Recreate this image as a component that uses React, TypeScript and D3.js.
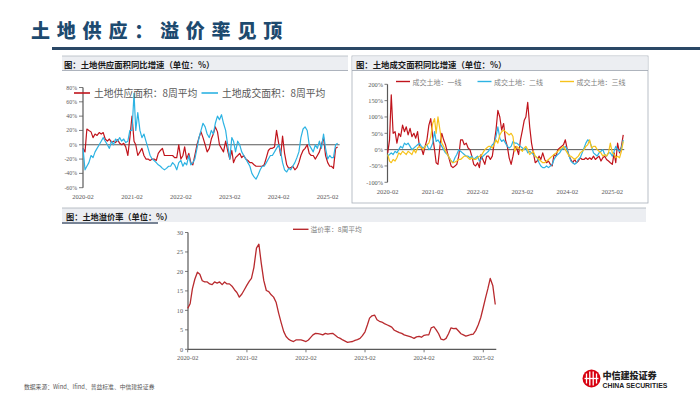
import React from 'react';
import * as d3 from 'd3';

// ---------- data (semi-monthly points starting 2020-02) ----------
const supplyArea = [
  -5, -10, 22, 20, 18, 10, 15, 13, 17, 15,
  17, 8, 5, 8, 3, 5, 3, 7, 2, 0,
  2, -3, -15, 10, 40, 5, 0, -15, -10, -5,
  -15, -20, -20, -22, -20, -20, -22, -12, -8, -5,
  -15, -15, -15, -15, -15, -18, -18, 0, -20, -15,
  -3, -20, -12, -25, -28, -15, 0, 10, 18, 10,
  0, -10, -5, 8, 15, 25, 18, 0, -5, -10,
  5, -8, -20, -8, -25, -18, -15, -12, -18, -15,
  -20, -22, -25, -25, -28, -30, -30, -30, -30, -28,
  -18, -8, -5, -5, -3, 20, 2, -15, 12, -12,
  -28, -33, -32, -30, -35, -32, -25, -15, -8, -5,
  0, -12, -15, -15, -20, -15, -10, 0, 10, -15,
  -25, -30, -30, -33, -5, -3,
];
const dealArea = [
  -5, -35, -30, -25, -15, -18, -10, -5, 0, 5,
  10, 5, 0, -5, 5, 0, 8, 5, 10, 5,
  8, 3, 5, 20, 20, 72, 20, 45, 20, 10,
  15, 5, -5, -15, -20, -22, -25, -28, -30, -33,
  -35, -33, -30, -30, -25, -28, -35, -25, -22, -30,
  -25, -28, -15, -28, -25, -20, -5, 10, 20, 30,
  25, 15, 10, 20, 15, 30, 40, 35, 42, 30,
  20, 0, -20, 10, 5, -10, 5, 0, -10, -15,
  -20, -25, -30, -40, -45, -48, -42, -35, -30, -30,
  -25, -20, -15, -15, -10, -5, 0, -10, -25, -35,
  -38, -33, -35, -30, -25, -18, -10, 10, 22, 25,
  20, 0, -5, -10, 0, -5, 5, -5, 15, -5,
  -20, -15, -18, -18, 0, 2,
];
const tier1 = [
  -10, 30, 168, 50, 55, 20, 50, 40, 75, 55,
  70, 45, 65, 40, 50, 35, 55, 10, 5, -15,
  10, 30, 75, 95, 40, 0, -40, -45, 10, 50,
  30, 15, -10, -30, -50, -55, -50, -45, -20, 30,
  30, 15, 20, 5, 0, -20, -45, -50, -40, -55,
  -15, -30, -45, -20, -20, -30, -20, 20, 60, 120,
  100, 60, 80, 30, 10, -25, -45, -20, 10, 5,
  -15, 30, 60, 90, 100, 145, 70, 20, -10, -40,
  -35, -20, -30, -10, -30, -40, -35, -45, -50, -15,
  -20, 0, 5, 10, 15, 30, 0, -20, -30, -40,
  -30, -40, -35, -25, -30, -30, -25, -30, -25, -30,
  -20, -30, -25, -20, -35, -25, -20, -30, -35, -40,
  -45, -10, -40, 20, -10, 10, 45,
];
const tier2 = [
  -20, -15, -10, -15, -5, -10, 0, 10, 5, 20,
  15, 20, 10, 0, 5, 10, 15, 20, 10, 5,
  10, 15, 0, 5, 20, 55, 25, 30, 20, 10,
  0, -10, -15, -25, -35, -40, -25, -15, 0, -5,
  -10, -15, -20, -20, -25, -20, -30, -25, -20, -35,
  -30, -20, -15, -10, -5, 5, 15, 20, 40, 70,
  35, 25, 30, 20, 10, 5, 10, 25, 20, 20,
  15, 10, 5, 0, 5, -10, -5, -10, -15, -20,
  -25, -40, -50, -55, -55, -50, -55, -50, -45, -30,
  -20, -15, -10, 0, 5, 10, 0, -20, -35, -40,
  -45, -40, -30, -25, -10, 5, 20, 30, 25, 10,
  -10, -15, -20, -10, -5, 0, -15, -20, -10, -10,
  -20, -5, 10, 0, -5, 5, 30,
];
const tier3 = [
  -15, -35, -40, -30, -35, -25, -10, -15, -5, -10,
  -15, -5, -10, -15, 0, -10, 5, 10, 5, 0,
  10, 15, 20, 40, 80, 95, 50, 100, 60, 20,
  10, -5, -15, -25, -35, -40, -38, -35, -30, -30,
  -25, -20, -20, -25, -30, -25, -30, -30, -25, -20,
  -20, -10, 0, 5, 10, 10, 5, 15, 30, 20,
  45, 55, 60, 55, 50, 45, 50, 40, -5, 10,
  5, 0, -5, 5, 10, 0, -15, -10, -5, -20,
  -25, -30, -35, -40, -40, -35, -30, -25, -20, -15,
  -10, -5, 0, 5, 10, 0, -10, -20, -20, -25,
  -30, -25, -20, -10, -5, 0, 10, 15, 30, 5,
  10, 10, 0, -5, -10, -20, -15, -20, -10, 20,
  -10, -15, -25, -20, -25, -5, 25,
];
const premium = [
  10.5, 11.7, 15.5, 18, 19.8, 19.3, 17.6, 17.3, 17.3, 16.8,
  16.6, 17.3, 17, 17.3, 16.6, 17.3, 16.8, 16.8, 16.2, 15.3,
  14.6, 13.4, 14.2, 15.3, 16.5, 17.5, 18.2, 21, 26, 27,
  22, 17.7, 15.1, 14.8, 14, 13.4, 12, 9.3, 6.8, 4.6,
  3.3, 2.6, 2.2, 2, 2.4, 2.4, 2.4, 2.2, 2, 2.4,
  3, 3.7, 4.1, 4, 3.9, 3.7, 4.1, 3.9, 4, 4.1,
  3.6, 3.1, 2.8, 2.4, 2.1, 1.8, 1.9, 2, 2.3, 2.5,
  2.8, 3.5, 4.5, 6.3, 8, 8.6, 8.8, 7.6, 7.2, 7,
  6.6, 6.3, 6, 5.7, 4.9, 4.6, 4.3, 4.1, 3.7, 3.5,
  3.3, 3.1, 2.8, 3.2, 3.3, 3.1, 3.6, 3.7, 3.7, 5.5,
  5.8, 5, 4, 2.6, 2.4, 2.8, 4, 5.5, 5.3, 5.4,
  4.7, 4, 3.7, 3.4, 3.6, 3.8, 3.9, 4.8, 6.3, 8.1,
  10.8, 13.4, 15.5, 18.2, 16.3, 11.5,
];

const xTickLabels = ['2020-02', '2021-02', '2022-02', '2023-02', '2024-02', '2025-02'];
const pctTicks1 = [80, 60, 40, 20, 0, -20, -40, -60];
const pctTicks2 = [200, 150, 100, 50, 0, -50, -100];
const premiumTicks = [0, 5, 10, 15, 20, 25, 30];

// ---------- helpers ----------
const semiMonth = (i: number) => new Date(2020, 1 + Math.floor(i / 2), i % 2 === 0 ? 1 : 16);
const tickDate = (s: string) => {
  const [y, m] = s.split('-').map(Number);
  return new Date(y, m - 1, 1);
};
const D0 = new Date(2020, 1, 1);
const D1 = new Date(2025, 1, 1);

const CJK = '"Noto Sans CJK SC", "Noto Sans", sans-serif';
const SERIF = '"Liberation Serif", "DejaVu Serif", serif';
const TICK = '#595959';
const RED = '#c0141c';
const CYAN = '#2db3e3';
const YELLOW = '#f6c21c';
const PREM = '#b82a2e';

function pathOf(values: number[], x: d3.ScaleTime<number, number>, y: d3.ScaleLinear<number, number>) {
  return d3
    .line<number>()
    .x((_, i) => x(semiMonth(i)))
    .y((v) => y(v))(values) as string;
}

export default function App() {
  // chart 1
  const x1 = d3.scaleTime().domain([D0, D1]).range([83, 327.7]);
  const y1 = d3.scaleLinear().domain([-60, 80]).range([187.7, 87.5]);
  // chart 2
  const x2 = d3.scaleTime().domain([D0, D1]).range([387.7, 612.3]);
  const y2 = d3.scaleLinear().domain([-100, 200]).range([182.3, 84.3]);
  // chart 3
  const x3 = d3.scaleTime().domain([D0, D1]).range([187.7, 483.3]);
  const y3 = d3.scaleLinear().domain([0, 30]).range([349.3, 232.5]);

  const x1End = x1(semiMonth(supplyArea.length - 1)) + 2;
  const x2End = x2(semiMonth(tier1.length - 1)) + 1;
  const x3End = x3(semiMonth(premium.length - 1)) + 1;

  return (
    <svg
      width={700}
      height={394}
      style={{ position: 'absolute', left: 0, top: 0, background: '#fff' }}
      xmlns="http://www.w3.org/2000/svg"
    >
      <rect x={0} y={0} width={700} height={394} fill="#fff" />

      {/* title */}
      <text
        x={31}
        y={38}
        fontFamily={CJK}
        fontWeight={900}
        fontSize={19}
        letterSpacing={6.8}
        fill="#1d4a6f"
      >
        土地供应：溢价率见顶
      </text>
      <rect x={52} y={47} width={648} height={3} fill="#2a4866" />

      {/* ===== panel 1 ===== */}
      <rect x={62} y={56} width={286} height={14.5} fill="#eceef2" />
      <line x1={62} x2={348} y1={56} y2={56} stroke="#b4bac2" strokeWidth={0.8} />
      <line x1={62} x2={348} y1={70.5} y2={70.5} stroke="#9aa2ad" strokeWidth={0.8} />
      <text x={64} y={63.5} dominantBaseline="central" fontFamily={CJK} fontWeight={700} fontSize={8.4} fill="#1a1a1a">
        图：土地供应面积同比增速（单位：%）
      </text>

      {/* axis 1 */}
      <line x1={83} x2={83} y1={y1(80)} y2={y1(-60)} stroke="#595959" strokeWidth={1.2} />
      {pctTicks1.map((t) => (
        <g key={'p1' + t}>
          <line x1={79} x2={83} y1={y1(t)} y2={y1(t)} stroke="#595959" strokeWidth={0.8} />
          <text x={77} y={y1(t)} dominantBaseline="central" textAnchor="end" fontFamily={SERIF} fontSize={5.8} fill={TICK}>
            {t + '%'}
          </text>
        </g>
      ))}
      <line x1={83} x2={x1End} y1={y1(0)} y2={y1(0)} stroke="#595959" strokeWidth={1} />
      {xTickLabels.map((s) => (
        <text key={'a' + s} x={x1(tickDate(s))} y={196} dominantBaseline="central" textAnchor="middle" fontFamily={SERIF} fontSize={6.5} fill={TICK}>
          {s}
        </text>
      ))}
      <path d={pathOf(supplyArea, x1, y1)} fill="none" stroke={RED} strokeWidth={1.2} strokeLinejoin="round" />
      <path d={pathOf(dealArea, x1, y1)} fill="none" stroke={CYAN} strokeWidth={1.2} strokeLinejoin="round" />
      {/* legend 1 */}
      <line x1={74} x2={90} y1={93} y2={93} stroke={RED} strokeWidth={1.6} />
      <text x={94} y={93} dominantBaseline="central" fontFamily={CJK} fontSize={9.8} fill="#595959">
        土地供应面积：8周平均
      </text>
      <line x1={201.5} x2={218} y1={93} y2={93} stroke={CYAN} strokeWidth={1.6} />
      <text x={222} y={93} dominantBaseline="central" fontFamily={CJK} fontSize={9.8} fill="#595959">
        土地成交面积：8周平均
      </text>

      {/* ===== panel 2 ===== */}
      <rect x={352} y={56} width={296} height={147} fill="none" stroke="#a9b0b9" strokeWidth={0.8} />
      <rect x={352.4} y={56.4} width={295.2} height={14} fill="#eceef2" />
      <line x1={352} x2={648} y1={70.5} y2={70.5} stroke="#9aa2ad" strokeWidth={0.8} />
      <text x={356} y={63.5} dominantBaseline="central" fontFamily={CJK} fontWeight={700} fontSize={8.4} fill="#1a1a1a">
        图：土地成交面积同比增速（单位：%）
      </text>

      <line x1={387.5} x2={387.5} y1={y2(200)} y2={y2(-100)} stroke="#595959" strokeWidth={1.2} />
      {pctTicks2.map((t) => (
        <g key={'p2' + t}>
          <line x1={384.5} x2={387.5} y1={y2(t)} y2={y2(t)} stroke="#595959" strokeWidth={0.8} />
          <text x={383} y={y2(t)} dominantBaseline="central" textAnchor="end" fontFamily={SERIF} fontSize={6.3} fill={TICK}>
            {t + '%'}
          </text>
        </g>
      ))}
      <line x1={387.5} x2={x2End} y1={y2(0)} y2={y2(0)} stroke="#595959" strokeWidth={1} />
      {xTickLabels.map((s) => (
        <text key={'b' + s} x={x2(tickDate(s))} y={191} dominantBaseline="central" textAnchor="middle" fontFamily={SERIF} fontSize={6.5} fill={TICK}>
          {s}
        </text>
      ))}
      <path d={pathOf(tier1, x2, y2)} fill="none" stroke={RED} strokeWidth={1.2} strokeLinejoin="round" />
      <path d={pathOf(tier2, x2, y2)} fill="none" stroke={CYAN} strokeWidth={1.2} strokeLinejoin="round" />
      <path d={pathOf(tier3, x2, y2)} fill="none" stroke={YELLOW} strokeWidth={1.2} strokeLinejoin="round" />
      {/* legend 2 */}
      <line x1={396} x2={410} y1={81.5} y2={81.5} stroke={RED} strokeWidth={1.4} />
      <text x={412.5} y={81.5} dominantBaseline="central" fontFamily={CJK} fontSize={7} fill="#7f7f7f">
        成交土地：一线
      </text>
      <line x1={477.5} x2={491.5} y1={81.5} y2={81.5} stroke={CYAN} strokeWidth={1.4} />
      <text x={494} y={81.5} dominantBaseline="central" fontFamily={CJK} fontSize={7} fill="#7f7f7f">
        成交土地：二线
      </text>
      <line x1={560} x2={574} y1={81.5} y2={81.5} stroke={YELLOW} strokeWidth={1.4} />
      <text x={576.5} y={81.5} dominantBaseline="central" fontFamily={CJK} fontSize={7} fill="#7f7f7f">
        成交土地：三线
      </text>

      {/* ===== panel 3 ===== */}
      <rect x={62} y={208} width={584} height={14} fill="#eceef2" />
      <line x1={62} x2={646} y1={208} y2={208} stroke="#a9b0b9" strokeWidth={0.8} />
      <line x1={62} x2={158} y1={223} y2={223} stroke="#4a5a72" strokeWidth={1.5} />
      <text x={66} y={215.5} dominantBaseline="central" fontFamily={CJK} fontWeight={700} fontSize={8.2} fill="#1a1a1a">
        图：土地溢价率（单位：%）
      </text>

      <line x1={188} x2={188} y1={y3(30)} y2={y3(0)} stroke="#595959" strokeWidth={1.2} />
      {premiumTicks.map((t) => (
        <g key={'p3' + t}>
          <line x1={185} x2={188} y1={y3(t)} y2={y3(t)} stroke="#595959" strokeWidth={0.8} />
          <text x={183} y={y3(t)} dominantBaseline="central" textAnchor="end" fontFamily={SERIF} fontSize={6.2} fill={TICK}>
            {t}
          </text>
        </g>
      ))}
      <line x1={188} x2={x3End} y1={y3(0)} y2={y3(0)} stroke="#595959" strokeWidth={1.2} />
      {xTickLabels.map((s) => (
        <g key={'c' + s}>
          <line x1={x3(tickDate(s))} x2={x3(tickDate(s))} y1={y3(0)} y2={y3(0) + 3} stroke="#595959" strokeWidth={0.8} />
          <text x={x3(tickDate(s))} y={357.7} dominantBaseline="central" textAnchor="middle" fontFamily={SERIF} fontSize={6.4} fill={TICK}>
            {s}
          </text>
        </g>
      ))}
      <path d={pathOf(premium, x3, y3)} fill="none" stroke={PREM} strokeWidth={1.3} strokeLinejoin="round" />
      <line x1={293} x2={308.5} y1={229.3} y2={229.3} stroke={PREM} strokeWidth={1.4} />
      <text x={310.5} y={229.3} dominantBaseline="central" fontFamily={CJK} fontSize={6.8} fill="#7f7f7f">
        溢价率：8周平均
      </text>

      {/* footer */}
      <text x={24} y={386} dominantBaseline="central" fontFamily={CJK} fontSize={5.8} fill="#555">
        数据来源：Wind、Ifind、普益标准、中信建投证券
      </text>

      {/* logo */}
      <circle cx={591.5} cy={378.5} r={9} fill="#d7000f" />
      <g stroke="#fff" strokeWidth={1.3} fill="none">
        <line x1={586.5} x2={586.5} y1={373.5} y2={383.5} />
        <line x1={589.8} x2={589.8} y1={371.5} y2={385.5} />
        <line x1={593.2} x2={593.2} y1={371.5} y2={385.5} />
        <line x1={596.5} x2={596.5} y1={373.5} y2={383.5} />
        <line x1={584.5} x2={598.5} y1={378.5} y2={378.5} />
      </g>
      <text x={602.5} y={375} dominantBaseline="central" fontFamily={CJK} fontWeight={900} fontSize={9.2} fill="#222" letterSpacing={-0.2}>
        中信建投证券
      </text>
      <text x={602.5} y={385.3} dominantBaseline="central" fontFamily='"Liberation Sans", Arial, sans-serif' fontWeight={700} fontSize={6.9} fill="#222">
        CHINA SECURITIES
      </text>
    </svg>
  );
}
